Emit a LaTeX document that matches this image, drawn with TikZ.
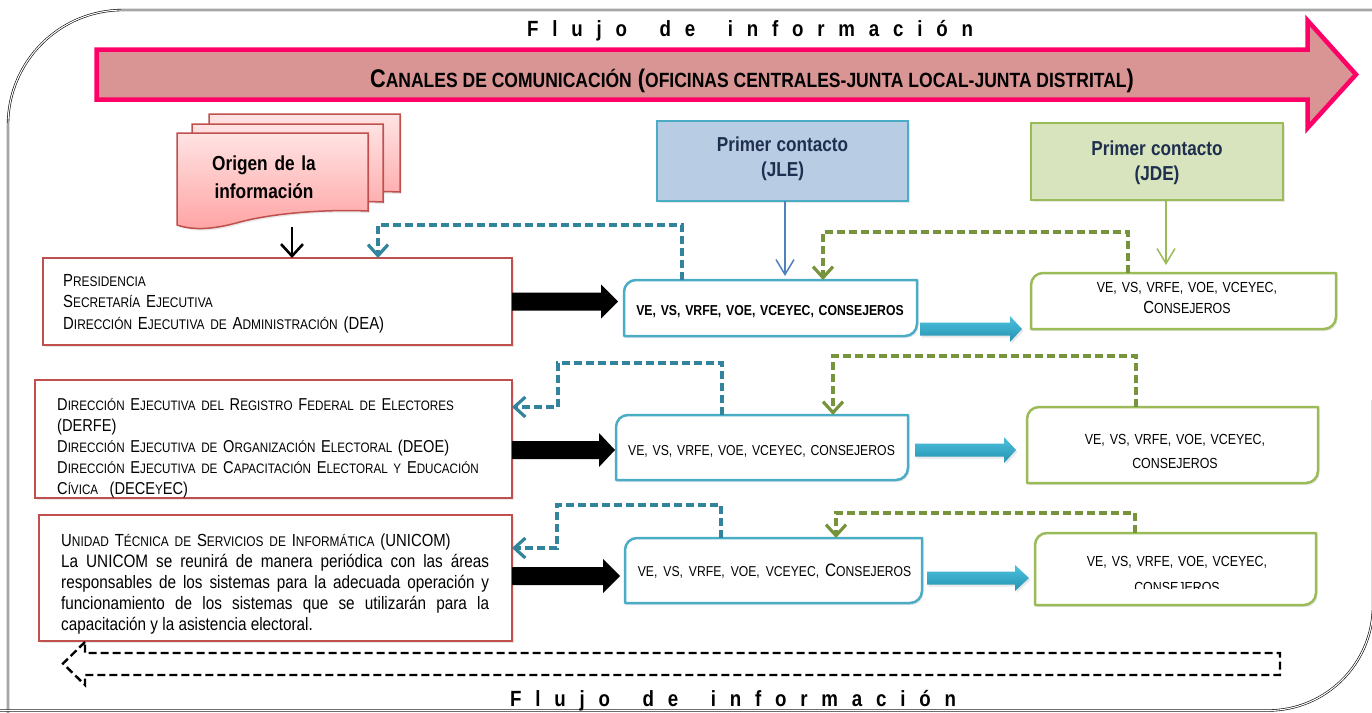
\documentclass[tikz,border=0pt]{standalone}
\usepackage{fontspec}
\setmainfont[FakeStretch=0.85]{Liberation Sans}
\usetikzlibrary{arrows.meta,shadows,calc}

\definecolor{arrfill}{HTML}{D99594}
\definecolor{arrline}{HTML}{FF0066}
\definecolor{redb}{HTML}{C0504D}
\definecolor{blueb}{HTML}{4BACC6}
\definecolor{greenb}{HTML}{9BBB59}
\definecolor{jlefill}{HTML}{B8CCE4}
\definecolor{jdefill}{HTML}{D7E4BD}
\definecolor{navy}{HTML}{1F2F4F}
\definecolor{tealdash}{HTML}{31849B}
\definecolor{olivedash}{HTML}{77933C}
\definecolor{jleline}{HTML}{4F81BD}
\definecolor{docTop}{HTML}{FFE3E3}
\definecolor{docBot}{HTML}{FFA3A3}
\definecolor{cyanTop}{HTML}{4CC2DE}
\definecolor{cyanBot}{HTML}{2591B0}

\def\smcsz{14}\def\smcsk{21}
\newcommand\smc[1]{{\fontsize{\smcsz}{\smcsk}\selectfont #1}}
\def\T{\kern13.8pt}
\newcommand\flujo{F\T l\T u\T j\T o\T\kern5pt\T d\T e\T\kern5pt\T i\T n\T f\T o\T r\T m\T a\T c\T i\T ó\T n}

\newcommand\diagframe[2]{%
 \path[#2] (#1.south west) -- ([yshift=-12pt]#1.north west)
  .. controls ([yshift=-5.4pt]#1.north west) and ([xshift=5.4pt]#1.north west) .. ([xshift=12pt]#1.north west)
  -- (#1.north east) -- ([yshift=12pt]#1.south east)
  .. controls ([yshift=5.4pt]#1.south east) and ([xshift=-5.4pt]#1.south east) .. ([xshift=-12pt]#1.south east)
  -- cycle;}
\newcommand\blackarrow[3]{\fill[black] (#1) ++(0,-9) -- ++(#2,0) -- ++(0,-8) -- ++(#3,17) -- ++(-#3,17) -- ++(0,-8) -- ++(-#2,0) -- cycle;}
\newcommand\bluearrow[3]{\path[cyanarrow] (#1) ++(0,-6.5) -- ++(#2,0) -- ++(0,-6.5) -- ++(#3,13) -- ++(-#3,13) -- ++(0,-6.5) -- ++(-#2,0) -- cycle;}
\newcommand\docpath{(177,133) -- (368,133) -- (368,211) .. controls (320,209) and (270,214) .. (240,222) .. controls (215,229) and (195,231) .. (177,225) -- cycle}

\tikzset{
 frame/.style={draw=black, line width=0.6pt, double=white, double distance=1.1pt},
 holder/.style={inner sep=0pt, outer sep=0pt, draw=none},
 softshadow/.style={drop shadow={opacity=0.18, shadow xshift=1.5pt, shadow yshift=-2pt}},
 redbox/.style={holder, draw=redb, line width=2.5pt, fill=white, softshadow},
 blueframe/.style={draw=blueb, line width=2.5pt, fill=white, line join=round, softshadow},
 greenframe/.style={draw=greenb, line width=2.5pt, fill=white, line join=round, softshadow},
 jlebox/.style={holder, draw=blueb, fill=jlefill, line width=2pt, softshadow},
 jdebox/.style={holder, draw=greenb, fill=jdefill, line width=2pt, softshadow},
 docsty/.style={draw=redb, line width=1.5pt, top color=docTop, bottom color=docBot, softshadow},
 cyanarrow/.style={top color=cyanTop, bottom color=cyanBot, softshadow},
 bdash/.style={draw=tealdash, line width=3.2pt, dash pattern=on 8pt off 4pt, -{Straight Barb[length=11pt,width=20pt]}},
 gdash/.style={draw=olivedash, line width=3.2pt, dash pattern=on 8pt off 4pt, -{Straight Barb[length=11pt,width=20pt]}},
 ltext/.style={inner sep=0pt, anchor=base west, align=left, text width=470pt},
 ctext/.style={inner sep=0pt, anchor=base, align=center, text width=320pt},
}

\begin{document}
\begin{tikzpicture}[x=1pt,y=-1pt]
\useasboundingbox (0,0) rectangle (1372,712);
\fill[white] (0,0) rectangle (1372,712);

% outer frame
\begin{scope}
\clip (0,0) rectangle (1372,712);
\draw[frame] (8,740) -- (8,125) .. controls (8,61.5) and (59.5,10) .. (123,10) -- (1400,10);
\draw[frame] (1373,400) -- (1373,605.5) .. controls (1373,663.5) and (1326,710.5) .. (1268,710.5) -- (-10,710.5);
\end{scope}

% flujo texts
\node[inner sep=0pt, anchor=base west, font=\bfseries\fontsize{22}{26}\selectfont] (fluxtop) at (527,36.7) {\flujo};
\node[inner sep=0pt, anchor=base west, font=\bfseries\fontsize{22}{26}\selectfont] (fluxbot) at (510,706.5) {\flujo};

% header arrow
\path[draw=arrline, fill=arrfill, line width=4.5pt, line join=miter]
 (96.5,49.5) -- (1307.5,49.5) -- (1307.5,20.5) -- (1356,74.5) -- (1307.5,128) -- (1307.5,99.5) -- (96.5,99.5) -- cycle;
\node[inner sep=0pt, anchor=base, font=\bfseries\fontsize{25.5}{30}\selectfont] (hdr) at (752,87.5)
 {\def\smcsz{20.6}C\smc{ANALES DE COMUNICACIÓN} (\smc{OFICINAS CENTRALES-JUNTA LOCAL-JUNTA DISTRITAL})};

% document stack
\path[docsty, shift={(32,-19)}] \docpath;
\path[docsty, shift={(15,-9)}] \docpath;
\path[docsty] \docpath;
\node[ctext, text width=150pt, font=\bfseries\fontsize{20.3}{28}\selectfont] (doc) at (264,170) {Origen de la\\información};
\coordinate (docbot) at (292,227);

% primer contacto boxes
\node[jlebox, minimum width=251pt, minimum height=80pt] (jle) at (782.5,160.5) {};
\node[jdebox, minimum width=252pt, minimum height=77pt] (jde) at (1157,161.5) {};
\node[ctext, text=navy, font=\bfseries\fontsize{20.2}{25}\selectfont] (tjle) at (782.5,151.7) {Primer\hspace{-1.5pt} contacto\\(JLE)};
\node[ctext, text=navy, font=\bfseries\fontsize{20.2}{25}\selectfont] (tjde) at (1157,155) {Primer\hspace{-1.5pt} contacto\\(JDE)};

% red boxes
\node[redbox, minimum width=469pt, minimum height=87pt] (a1) at (277.5,301.5) {};
\node[redbox, minimum width=477pt, minimum height=118pt] (a2) at (273.5,439) {};
\node[redbox, minimum width=473pt, minimum height=126pt] (a3) at (275.5,578) {};

% blue / green boxes
\node[holder, minimum width=293pt, minimum height=56pt] (b1) at (770.5,308) {};
\node[holder, minimum width=292pt, minimum height=65pt] (b2) at (762,447.5) {};
\node[holder, minimum width=297pt, minimum height=65pt] (b3) at (773.5,570.5) {};
\node[holder, minimum width=305pt, minimum height=56pt] (c1) at (1183.5,301) {};
\node[holder, minimum width=291pt, minimum height=76pt] (c2) at (1172.5,445) {};
\node[holder, minimum width=281pt, minimum height=72pt] (c3) at (1175.5,569) {};
\diagframe{b1}{blueframe}
\diagframe{b2}{blueframe}
\diagframe{b3}{blueframe}
\diagframe{c1}{greenframe}
\diagframe{c2}{greenframe}
\diagframe{c3}{greenframe}

% texts in red boxes
\node[ltext, font=\fontsize{17.5}{21.5}\selectfont] (ta1) at (63,286)
 {P\smc{RESIDENCIA}\\S\smc{ECRETARÍA} E\smc{JECUTIVA}\\D\smc{IRECCIÓN} E\smc{JECUTIVA DE} A\smc{DMINISTRACIÓN} (DEA)};
\node[ltext, font=\fontsize{17.2}{21}\selectfont, text width=475pt] (ta2) at (57,410)
 {\def\smcsz{13.7}D\smc{IRECCIÓN} E\smc{JECUTIVA DEL} R\smc{EGISTRO} F\smc{EDERAL DE} E\smc{LECTORES}\\(DERFE)\\D\smc{IRECCIÓN} E\smc{JECUTIVA DE} O\smc{RGANIZACIÓN} E\smc{LECTORAL} (DEOE)\\D\smc{IRECCIÓN} E\smc{JECUTIVA DE} C\smc{APACITACIÓN} E\smc{LECTORAL Y} E\smc{DUCACIÓN}\\C\smc{ÍVICA}\ \ (DECE\smc{Y}EC)};
\node[ltext, font=\fontsize{17.5}{21}\selectfont] (ta3t) at (61,546.5)
 {U\smc{NIDAD} T\smc{ÉCNICA DE} S\smc{ERVICIOS DE} I\smc{NFORMÁTICA} (UNICOM)};
\node[inner sep=0pt, anchor=base west, align=justify, text width=428pt, font=\fontsize{18}{21}\selectfont] (ta3) at (61,567.5)
 {\hyphenpenalty=10000 La UNICOM se reunirá de manera periódica con las áreas\linebreak responsables de los sistemas para la adecuada operación y\linebreak funcionamiento de los sistemas que se utilizarán para la\linebreak capacitación y la asistencia electoral.};

% texts in blue boxes
\node[ctext, font=\bfseries\fontsize{14.4}{17}\selectfont] (tb1) at (770,315) {VE, VS, VRFE, VOE, VCEYEC, CONSEJEROS};
\node[ctext, font=\fontsize{14.4}{17}\selectfont] (tb2) at (761.5,455) {VE, VS, VRFE, VOE, VCEYEC, CONSEJEROS};
\node[ctext, font=\fontsize{18}{21}\selectfont] (tb3) at (774.5,576) {\def\smcsz{14.3}\smc{VE, VS, VRFE, VOE, VCEYEC,} C\smc{ONSEJEROS}};

% texts in green boxes
\node[ctext, font=\fontsize{14.6}{20.6}\selectfont] (tc1) at (1187,292.7) {VE, VS, VRFE, VOE, VCEYEC,\\{\fontsize{17.5}{20.6}\selectfont C}ONSEJEROS};
\node[ctext, font=\fontsize{14.6}{24}\selectfont] (tc2) at (1175,444) {VE, VS, VRFE, VOE, VCEYEC,\\CONSEJEROS};
\begin{scope}
\clip (1040,545) rectangle (1320,588.5);
\node[ctext, font=\fontsize{14.6}{26}\selectfont] (tc3) at (1177,566) {VE, VS, VRFE, VOE, VCEYEC,\\CONSEJEROS};
\end{scope}

% black fat arrows
\blackarrow{a1.east}{89}{17}
\blackarrow{[yshift=-11pt]a2.east}{87}{16}
\blackarrow{[yshift=2pt]a3.east}{91}{17}

% cyan arrows
\bluearrow{[xshift=3pt,yshift=-21pt]b1.east}{90}{12}
\bluearrow{[xshift=7pt,yshift=-2.5pt]b2.east}{89}{12}
\bluearrow{[xshift=5pt,yshift=-7.5pt]b3.east}{88}{14}

% vertical arrows from top boxes
\draw[black, line width=2.6pt, -{Straight Barb[length=12pt,width=22pt]}] (docbot) -- (docbot |- a1.north);
\coordinate (jlex) at ([xshift=2.5pt]jle.south);
\draw[jleline, line width=1.5pt, shorten >=4pt, -{Straight Barb[length=15pt,width=18pt]}] (jlex) -- (jlex |- b1.north);
\coordinate (jdex) at ([xshift=9pt]jde.south);
\draw[greenb, line width=1.5pt, shorten >=8pt, -{Straight Barb[length=15pt,width=18pt]}] (jdex) -- (jdex |- c1.north);

% dashed feedback connectors
\draw[bdash] ([xshift=58pt]b1.north west) -- ++(0,-55) -| ([xshift=335pt]a1.north west);
\draw[gdash] ([xshift=97pt]c1.north west) -- ++(0,-41) -| ([xshift=199pt]b1.north west);
\draw[bdash] ([xshift=106pt]b2.north west) -- ++(0,-52) -- ++(-164,0) |- ([yshift=-27pt]a2.north east);
\draw[gdash] ([xshift=109pt]c2.north west) -- ++(0,-51) -| ([xshift=217pt]b2.north west);
\draw[bdash] ([xshift=96pt]b3.north west) -- ++(0,-33) -- ++(-164,0) |- ([yshift=-33pt]a3.north east);
\draw[gdash] ([xshift=100pt]c3.north west) -- ++(0,-20) -| ([xshift=211pt]b3.north west);

% bottom hollow dashed arrow
\draw[black, line width=2.4pt, dash pattern=on 8pt off 4pt]
 (85,642) -- (63,663.5) -- (85,685) -- (85,675) -- (1280,675) -- (1280,653) -- (85,653) -- cycle;
\end{tikzpicture}
\end{document}
